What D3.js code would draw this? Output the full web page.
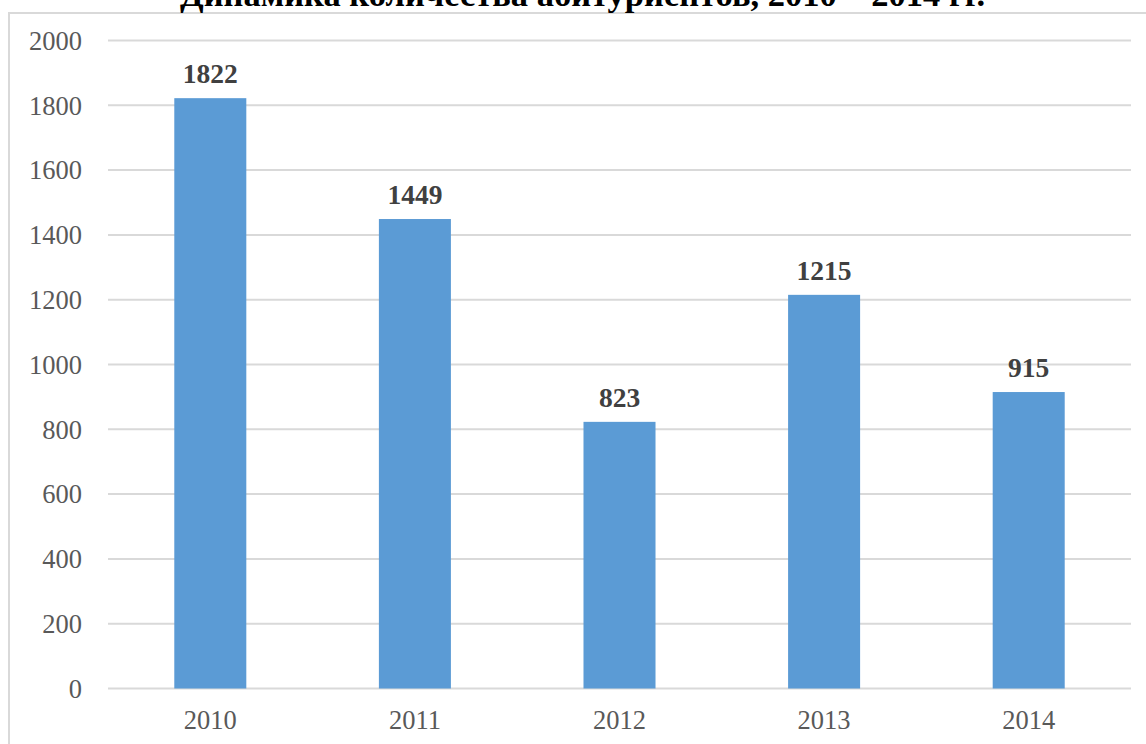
<!DOCTYPE html>
<html lang="ru">
<head>
	<meta charset="UTF-8">
	<title>Динамика количества абитуриентов</title>
	<style>
		body {
			margin: 0;
			overflow: hidden;
			background: #fff;
		}

		svg {
			display: block;
			font-family: "Liberation Serif", "DejaVu Serif", serif;
		}

		.grid line {
			stroke: #d9d9d9;
			stroke-width: 2px;
		}

		.tick-label {
			fill: #595959;
			font-size: 26.5px;
		}

		.value-label {
			fill: #404040;
			font-size: 27.5px;
			font-weight: bold;
		}
	</style>
	<script src="https://d3js.org/d3.v7.min.js"></script>
</head>
<body>
	<script>
		// chart data
		const years = ["2010", "2011", "2012", "2013", "2014"];
		const applicants = [1822, 1449, 823, 1215, 915];
		const yTicks = [0, 200, 400, 600, 800, 1000, 1200, 1400, 1600, 1800, 2000];
		const title = "Динамика количества абитуриентов, 2010 – 2014 гг.";

		const W = 1146, H = 744;
		const plotLeft = 108, plotRight = 1131;
		const plotTop = 40.5, plotBottom = 688.5;

		const svg = d3.select("body")
			.append("svg")
			.attr("width", W)
			.attr("height", H);

		// outer chart frame (runs off the right and bottom of the picture)
		svg.append("rect")
			.attr("x", 9)
			.attr("y", 13)
			.attr("width", 1200)
			.attr("height", 800)
			.attr("fill", "none")
			.attr("stroke", "#d9d9d9")
			.attr("stroke-width", 2);

		// title, mostly cut off at the top like in the source picture
		svg.append("text")
			.attr("x", 582.5)
			.attr("y", 6)
			.attr("text-anchor", "middle")
			.attr("font-size", 34.5)
			.attr("font-weight", "bold")
			.attr("fill", "#000")
			.text(title);

		const x = d3.scaleBand()
			.domain(years)
			.range([plotLeft, plotRight])
			.paddingInner(0.648)
			.paddingOuter(0.324);

		const y = d3.scaleLinear()
			.domain([0, 2000])
			.range([plotBottom, plotTop]);

		// horizontal gridlines
		svg.append("g")
			.attr("class", "grid")
			.selectAll("line")
			.data(yTicks)
			.join("line")
			.attr("x1", plotLeft)
			.attr("x2", plotRight)
			.attr("y1", d => y(d))
			.attr("y2", d => y(d));

		// y tick labels
		svg.append("g")
			.selectAll("text")
			.data(yTicks)
			.join("text")
			.attr("class", "tick-label")
			.attr("x", 82)
			.attr("y", d => y(d))
			.attr("dy", "0.35em")
			.attr("text-anchor", "end")
			.text(d => d);

		// bars
		svg.append("g")
			.selectAll("rect")
			.data(applicants)
			.join("rect")
			.attr("x", (d, i) => x(years[i]))
			.attr("y", d => y(d))
			.attr("width", x.bandwidth())
			.attr("height", d => plotBottom - y(d))
			.attr("fill", "#5b9bd5");

		// value labels above bars
		svg.append("g")
			.selectAll("text")
			.data(applicants)
			.join("text")
			.attr("class", "value-label")
			.attr("x", (d, i) => x(years[i]) + x.bandwidth() / 2)
			.attr("y", d => y(d) - 15)
			.attr("text-anchor", "middle")
			.text(d => d);

		// x axis labels
		svg.append("g")
			.selectAll("text")
			.data(years)
			.join("text")
			.attr("class", "tick-label")
			.attr("x", d => x(d) + x.bandwidth() / 2)
			.attr("y", plotBottom + 40)
			.attr("text-anchor", "middle")
			.text(d => d);
	</script>
</body>
</html>
